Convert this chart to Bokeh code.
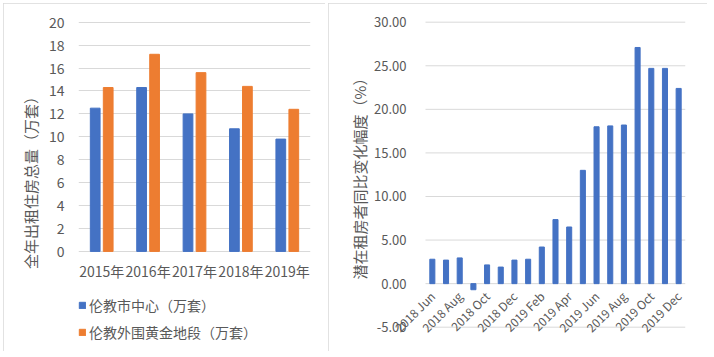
from math import pi
from bokeh.plotting import figure
from bokeh.layouts import row
from bokeh.models import (ColumnDataSource, FactorRange, Range1d, FixedTicker, Legend,
                          LegendItem, PrintfTickFormatter)
from bokeh.transform import dodge
from bokeh.embed import file_html
from bokeh.resources import INLINE

# ---------------- data ----------------
years = ["2015年", "2016年", "2017年", "2018年", "2019年"]
central = [12.5, 14.3, 12.0, 10.7, 9.8]
outer = [14.3, 17.2, 15.6, 14.4, 12.4]
series_names = ["伦教市中心（万套）", "伦教外围黄金地段（万套）"]
left_title = "全年出租住房总量（万套）"
left_ticks = list(range(0, 21, 2))

months = ["2018 Jun", "2018 Jul", "2018 Aug", "2018 Sep", "2018 Oct", "2018 Nov",
          "2018 Dec", "2019 Jan", "2019 Feb", "2019 Mar", "2019 Apr", "2019 May",
          "2019 Jun", "2019 Jul", "2019 Aug", "2019 Sep", "2019 Oct", "2019 Nov",
          "2019 Dec"]
change = [2.8, 2.7, 2.95, -0.7, 2.15, 1.9, 2.7, 2.8, 4.2, 7.35, 6.5, 13.0,
          18.0, 18.1, 18.2, 27.1, 24.7, 24.7, 22.4]
right_title = "潜在租房者同比变化幅度（%）"
right_ticks = list(range(-5, 31, 5))

# ---------------- style ----------------
FONT = "Noto Sans CJK SC"
GRID = "#D9D9D9"
TXT = "#595959"
BLUE = "#4472C4"
ORANGE = "#ED7D31"
PANEL = {"outline": "1px solid #D9D9D9", "outline-offset": "-1px"}


def style_axis(ax, tick_size, title_size):
    ax.axis_line_color = None
    ax.major_tick_line_color = None
    ax.minor_tick_line_color = None
    ax.major_label_text_font = FONT
    ax.major_label_text_font_size = tick_size
    ax.major_label_text_color = TXT
    ax.axis_label_text_font = FONT
    ax.axis_label_text_font_size = title_size
    ax.axis_label_text_font_style = "normal"
    ax.axis_label_text_color = TXT


# ---------------- left chart ----------------
# the plot frame reaches down to the panel bottom so that the category labels
# and the legend (drawn inside the frame) are not clipped
src1 = ColumnDataSource(dict(year=years, central=central, outer=outer))
p1 = figure(x_range=FactorRange(*years), y_range=Range1d(-8.21, 20.847),
            frame_width=232, frame_height=333,
            output_backend="svg", toolbar_location=None,
            min_border_left=75, min_border_right=15, min_border_top=9,
            min_border_bottom=6)
r1 = p1.vbar(x=dodge("year", -0.14, range=p1.x_range), top="central", width=0.21,
             source=src1, color=BLUE)
r2 = p1.vbar(x=dodge("year", 0.14, range=p1.x_range), top="outer", width=0.21,
             source=src1, color=ORANGE)

p1.yaxis.ticker = FixedTicker(ticks=left_ticks)
p1.yaxis.bounds = (left_ticks[0], left_ticks[-1])
p1.yaxis.axis_label = left_title
style_axis(p1.xaxis[0], "14px", "15px")
style_axis(p1.yaxis[0], "14px", "15px")
p1.xaxis.fixed_location = 0
p1.yaxis.major_label_standoff = 8
p1.yaxis.axis_label_standoff = 5
p1.xaxis.major_label_standoff = 4
p1.xgrid.grid_line_color = None
p1.ygrid.grid_line_color = GRID
p1.outline_line_color = None

legend = Legend(items=[LegendItem(label=series_names[0], renderers=[r1]),
                       LegendItem(label=series_names[1], renderers=[r2])],
                location=(0, 3), orientation="vertical",
                border_line_color=None, background_fill_alpha=0,
                label_text_font=FONT, label_text_font_size="14px", label_text_color=TXT,
                glyph_width=8, glyph_height=8, label_standoff=3, spacing=7,
                label_height=20, padding=0, margin=0)
p1.add_layout(legend, "center")
p1.styles = PANEL

# ---------------- right chart ----------------
# frame widened to the left / bottom so that the tick labels, hung on axes at
# fixed data locations, stay inside it
src2 = ColumnDataSource(dict(idx=list(range(len(months))), change=change))
x_lo, x_hi = -0.5, len(months) - 0.5
p2 = figure(x_range=Range1d(x_lo - 5.846, x_hi), y_range=Range1d(-7.10, 31.113),
            frame_width=340, frame_height=333,
            output_backend="svg", toolbar_location=None,
            min_border_left=17, min_border_right=22, min_border_top=9,
            min_border_bottom=6)
grid_src = ColumnDataSource(dict(y=right_ticks, x0=[x_lo] * len(right_ticks),
                                 x1=[x_hi] * len(right_ticks)))
p2.segment(x0="x0", x1="x1", y0="y", y1="y", source=grid_src, line_color=GRID,
           line_width=1)
p2.vbar(x="idx", top="change", width=0.37, source=src2, color=BLUE)

p2.yaxis.ticker = FixedTicker(ticks=right_ticks)
p2.yaxis.formatter = PrintfTickFormatter(format="%.2f")
p2.yaxis.bounds = (right_ticks[0], right_ticks[-1])
p2.yaxis.fixed_location = x_lo
p2.yaxis.axis_label = right_title
style_axis(p2.yaxis[0], "13px", "15px")
p2.yaxis.major_label_standoff = 13
p2.yaxis.axis_label_standoff = 1

p2.xaxis.ticker = FixedTicker(ticks=list(range(0, len(months), 2)))
p2.xaxis.major_label_overrides = {i: months[i] for i in range(0, len(months), 2)}
p2.xaxis.major_label_orientation = pi / 4
p2.xaxis.fixed_location = 0
style_axis(p2.xaxis[0], "12px", "12px")
p2.xaxis.major_label_standoff = 4

p2.xgrid.grid_line_color = None
p2.ygrid.grid_line_color = None
p2.outline_line_color = None
p2.styles = PANEL

layout = row(p1, p2, spacing=3)
layout.margin = (3, 0, 0, 3)
open("out.html", "w").write(file_html(layout, INLINE))
